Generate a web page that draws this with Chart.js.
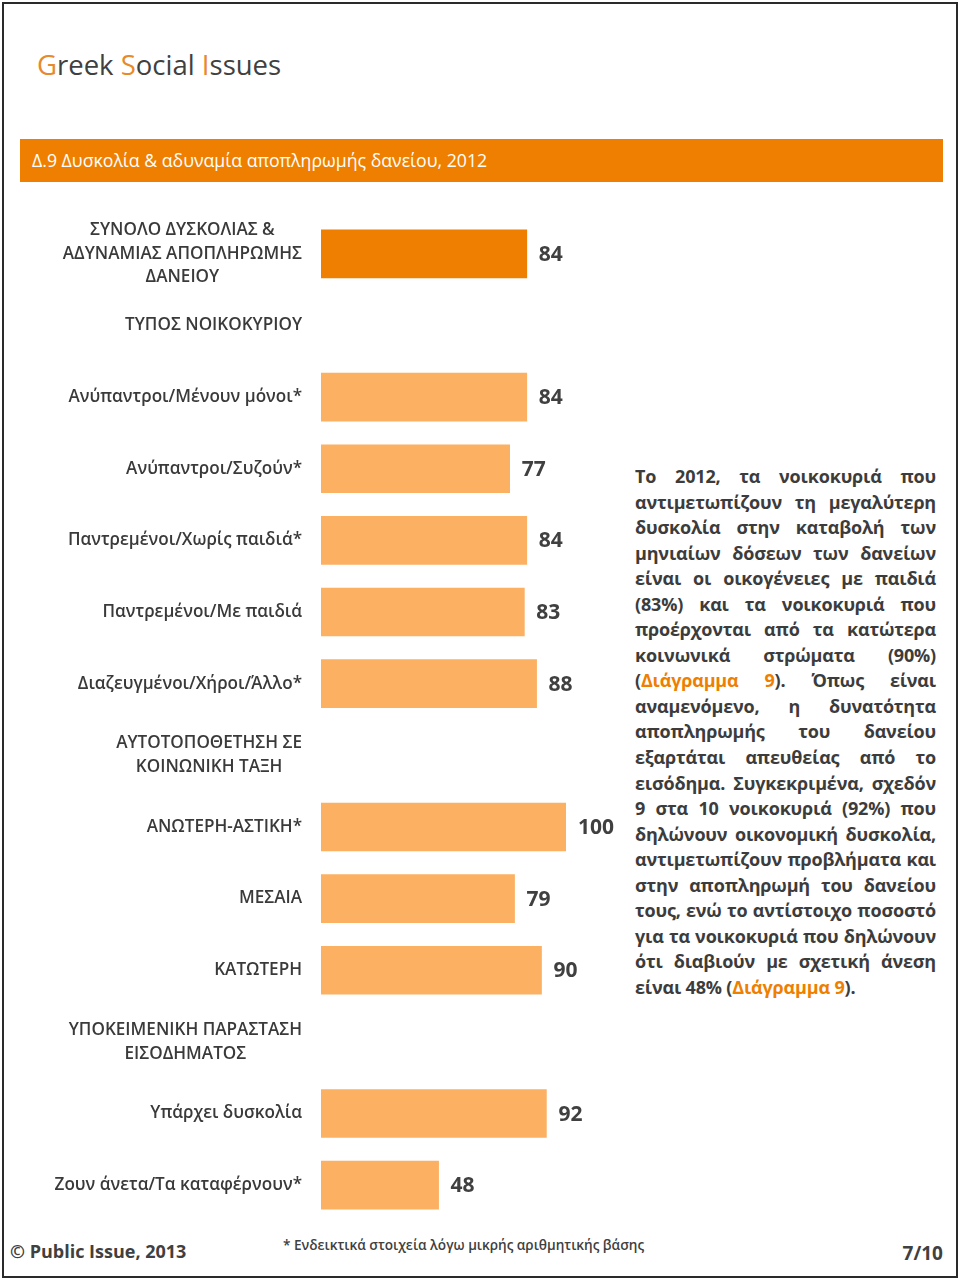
<!DOCTYPE html>
<html>
<head>
<meta charset="utf-8">
<script src="https://cdn.jsdelivr.net/npm/chart.js@4.4.1/dist/chart.umd.min.js"></script>
<style>
  html, body { margin: 0; padding: 0; background: #fff; }
  #page { position: relative; width: 960px; height: 1280px; overflow: hidden; font-family: "Open Sans", sans-serif; color: #404040; }
  #frame { position: absolute; left: 2px; top: 2px; width: 952px; height: 1272px; border: 2px solid #2a2a2a; }
  #title { position: absolute; left: 37px; top: 46px; font-size: 27.5px; color: #404040; white-space: nowrap; }
  #title .o { color: #E8892B; }
  #banner { position: absolute; left: 20px; top: 139px; width: 923px; height: 43px; background: #EE7F00; }
  #banner span { position: absolute; left: 12px; top: 9px; color: #fff; font-size: 17.7px; white-space: nowrap; }
  #chartbox { position: absolute; left: 0; top: 200px; width: 620px; height: 1030px; }
  #para { position: absolute; left: 635px; top: 464px; width: 301px; font-size: 18px; font-weight: 700; line-height: 25.55px; color: #3c3c3c; }
  #para div { text-align: justify; text-align-last: justify; white-space: nowrap; }
  #para div.last { text-align-last: left; }
  #para.measure div { display: inline-block; text-align-last: auto; }
  #para.measure { width: auto; }
  #para .o { color: #EE7F00; }
  #copy { position: absolute; left: 10px; top: 1239px; font-size: 18px; font-weight: 700; white-space: nowrap; }
  #note { position: absolute; left: 283px; top: 1235px; font-size: 13.6px; font-weight: 600; white-space: nowrap; }
  #pg { position: absolute; right: 17px; top: 1240px; font-size: 19px; font-weight: 700; }
</style>
</head>
<body>
<div id="page">
  <div id="frame"></div>
  <div id="title"><span class="o">G</span>reek <span class="o">S</span>ocial <span class="o">I</span>ssues</div>
  <div id="banner"><span>Δ.9 Δυσκολία &amp; αδυναμία αποπληρωμής δανείου, 2012</span></div>
  <div id="chartbox"><canvas id="c" width="620" height="1030"></canvas></div>
  <div id="para" class="measure">
    <div>Το 2012, τα νοικοκυριά που</div>
    <div>αντιμετωπίζουν τη μεγαλύτερη</div>
    <div>δυσκολία στην καταβολή των</div>
    <div>μηνιαίων δόσεων των δανείων</div>
    <div>είναι οι οικογένειες με παιδιά</div>
    <div>(83%) και τα νοικοκυριά που</div>
    <div>προέρχονται από τα κατώτερα</div>
    <div>κοινωνικά στρώματα (90%)</div>
    <div>(<span class="o">Διάγραμμα</span> <span class="o">9</span>). Όπως είναι</div>
    <div>αναμενόμενο, η δυνατότητα</div>
    <div>αποπληρωμής του δανείου</div>
    <div>εξαρτάται απευθείας από το</div>
    <div>εισόδημα. Συγκεκριμένα, σχεδόν</div>
    <div>9 στα 10 νοικοκυριά (92%) που</div>
    <div>δηλώνουν οικονομική δυσκολία,</div>
    <div>αντιμετωπίζουν προβλήματα και</div>
    <div>στην αποπληρωμή του δανείου</div>
    <div>τους, ενώ το αντίστοιχο ποσοστό</div>
    <div>για τα νοικοκυριά που δηλώνουν</div>
    <div>ότι διαβιούν με σχετική άνεση</div>
    <div class="last">είναι 48% (<span class="o">Διάγραμμα 9</span>).</div>
  </div>
  <div id="copy">© Public Issue, 2013</div>
  <div id="note">* Ενδεικτικά στοιχεία λόγω μικρής αριθμητικής βάσης</div>
  <div id="pg">7/10</div>
</div>
<script>
// fit paragraph lines into the column with a uniform letter-spacing
(function () {
  const para = document.getElementById('para');
  const lines = Array.from(para.children);
  let worst = 0, worstChars = 1;
  lines.forEach(d => {
    const w = d.getBoundingClientRect().width;
    if (w > worst) { worst = w; worstChars = d.textContent.length; }
  });
  const target = 299;
  if (worst > target) {
    para.style.letterSpacing = (-(worst - target) / worstChars).toFixed(2) + 'px';
  }
  para.classList.remove('measure');
})();

const categories = [
  ["ΣΥΝΟΛΟ ΔΥΣΚΟΛΙΑΣ &", "ΑΔΥΝΑΜΙΑΣ ΑΠΟΠΛΗΡΩΜΗΣ", "ΔΑΝΕΙΟΥ"],
  "ΤΥΠΟΣ ΝΟΙΚΟΚΥΡΙΟΥ",
  "Ανύπαντροι/Μένουν μόνοι*",
  "Ανύπαντροι/Συζούν*",
  "Παντρεμένοι/Χωρίς παιδιά*",
  "Παντρεμένοι/Με παιδιά",
  "Διαζευγμένοι/Χήροι/Άλλο*",
  ["ΑΥΤΟΤΟΠΟΘΕΤΗΣΗ ΣΕ", "ΚΟΙΝΩΝΙΚΗ ΤΑΞΗ"],
  "ΑΝΩΤΕΡΗ-ΑΣΤΙΚΗ*",
  "ΜΕΣΑΙΑ",
  "ΚΑΤΩΤΕΡΗ",
  ["ΥΠΟΚΕΙΜΕΝΙΚΗ ΠΑΡΑΣΤΑΣΗ", "ΕΙΣΟΔΗΜΑΤΟΣ"],
  "Υπάρχει δυσκολία",
  "Ζουν άνετα/Τα καταφέρνουν*"
];
const values = [84, null, 84, 77, 84, 83, 88, null, 100, 79, 90, null, 92, 48];
const totalIndex = 0;

const barColors = values.map((v, i) => i === totalIndex ? '#EE7F00' : '#FBB062');

const valueLabels = {
  id: 'valueLabels',
  afterDatasetsDraw(chart) {
    const ctx = chart.ctx;
    const meta = chart.getDatasetMeta(0);
    ctx.save();
    ctx.font = 'bold 21px "Open Sans", sans-serif';
    ctx.fillStyle = '#404040';
    ctx.textBaseline = 'middle';
    ctx.textAlign = 'left';
    meta.data.forEach((el, i) => {
      const v = values[i];
      if (v === null || v === undefined) return;
      ctx.fillText(String(v), el.x + 12, el.y + 1);
    });
    ctx.restore();
  }
};

// category labels: block right-aligned to the axis, lines centred within the block
const categoryLabels = {
  id: 'categoryLabels',
  afterDraw(chart) {
    const ctx = chart.ctx;
    const y = chart.scales.y;
    const right = chart.chartArea.left - 19;
    const lh = 23.5;
    ctx.save();
    ctx.font = '600 17.1px "Open Sans", sans-serif';
    ctx.fillStyle = '#3a3a3a';
    ctx.textBaseline = 'middle';
    ctx.textAlign = 'center';
    y.ticks.forEach((t, i) => {
      const lab = chart.data.labels[i];
      const lines = Array.isArray(lab) ? lab : [lab];
      const maxW = Math.max(...lines.map(l => ctx.measureText(l).width));
      const cx = right - maxW / 2;
      const cy = y.getPixelForTick(i);
      const y0 = cy - (lines.length - 1) * lh / 2;
      lines.forEach((l, k) => ctx.fillText(l, cx, y0 + k * lh));
    });
    ctx.restore();
  }
};

new Chart(document.getElementById('c'), {
  type: 'bar',
  data: {
    labels: categories,
    datasets: [{
      data: values,
      backgroundColor: barColors,
      borderWidth: 0,
      barThickness: 48
    }]
  },
  options: {
    indexAxis: 'y',
    responsive: false,
    animation: false,
    layout: { padding: { top: 18, bottom: 9, left: 0, right: 54 } },
    plugins: { legend: { display: false }, tooltip: { enabled: false } },
    scales: {
      x: { display: false, min: 0, max: 100 },
      y: {
        grid: { display: false, drawTicks: false },
        border: { display: false },
        ticks: { autoSkip: false, display: false },
        afterFit(scale) {
          scale.width = 321;
          scale.paddingTop = 0;
          scale.paddingBottom = 0;
        }
      }
    }
  },
  plugins: [valueLabels, categoryLabels]
});
</script>
</body>
</html>
